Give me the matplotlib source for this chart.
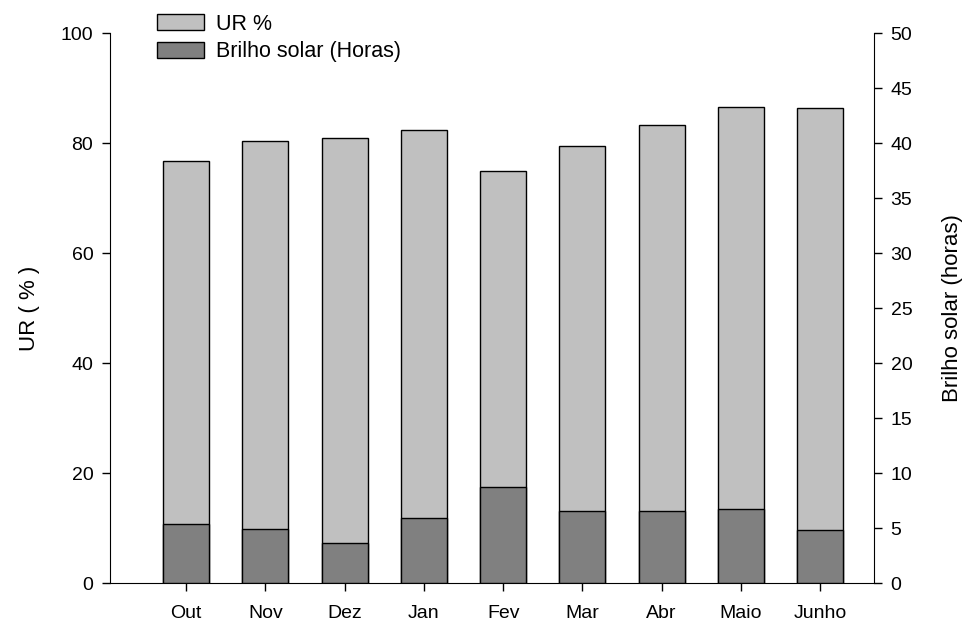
import matplotlib.pyplot as plt
import numpy as np

plt.rcParams['font.family'] = ['Liberation Sans', 'DejaVu Sans']

# dados
meses = ['Out', 'Nov', 'Dez', 'Jan', 'Fev', 'Mar', 'Abr', 'Maio', 'Junho']
ur = [76.7, 80.4, 80.9, 82.3, 75.0, 79.4, 83.3, 86.5, 86.4]
brilho = [5.35, 4.95, 3.65, 5.95, 8.72, 6.55, 6.55, 6.75, 4.85]

x = np.arange(len(meses))
largura = 0.58

fig = plt.figure(figsize=(9.66, 6.23), dpi=100)
ax = fig.add_axes([0.1139, 0.0642, 0.7909, 0.8828])
ax2 = ax.twinx()

# barras de UR no eixo da esquerda
b1 = ax.bar(x, ur, width=largura, color='#c0c0c0', edgecolor='black', linewidth=1.0,
            label='UR %', zorder=2)
# barras de brilho solar no eixo da direita (0-50)
b2 = ax2.bar(x, brilho, width=largura, color='#808080', edgecolor='black', linewidth=1.0,
             label='Brilho solar (Horas)', zorder=3)

ax.set_xlim(-0.96, 8.68)
ax.set_ylim(0, 100)
ax2.set_ylim(0, 50)
ax.set_yticks(np.arange(0, 101, 20))
ax2.set_yticks(np.arange(0, 51, 5))
ax.set_xticks(x)
ax.set_xticklabels(meses)

for a in (ax, ax2):
    a.spines['top'].set_visible(False)
    a.tick_params(direction='out', length=6, width=1, labelsize=14, pad=6)
ax.tick_params(axis='x', pad=10)
ax.spines['right'].set_visible(False)
ax2.spines['left'].set_visible(False)
ax2.spines['bottom'].set_visible(False)

ax.set_ylabel('UR ( % )', fontsize=16, labelpad=15)
ax2.set_ylabel('Brilho solar (horas)', fontsize=16, labelpad=21)

fig.legend(handles=[b1, b2], loc='upper left', bbox_to_anchor=(0.1625, 0.978),
           frameon=False, fontsize=15.5, handlelength=2.2, handleheight=0.75,
           labelspacing=0.3, handletextpad=0.55, borderaxespad=0, borderpad=0)

fig.savefig('out.png', dpi=100)
